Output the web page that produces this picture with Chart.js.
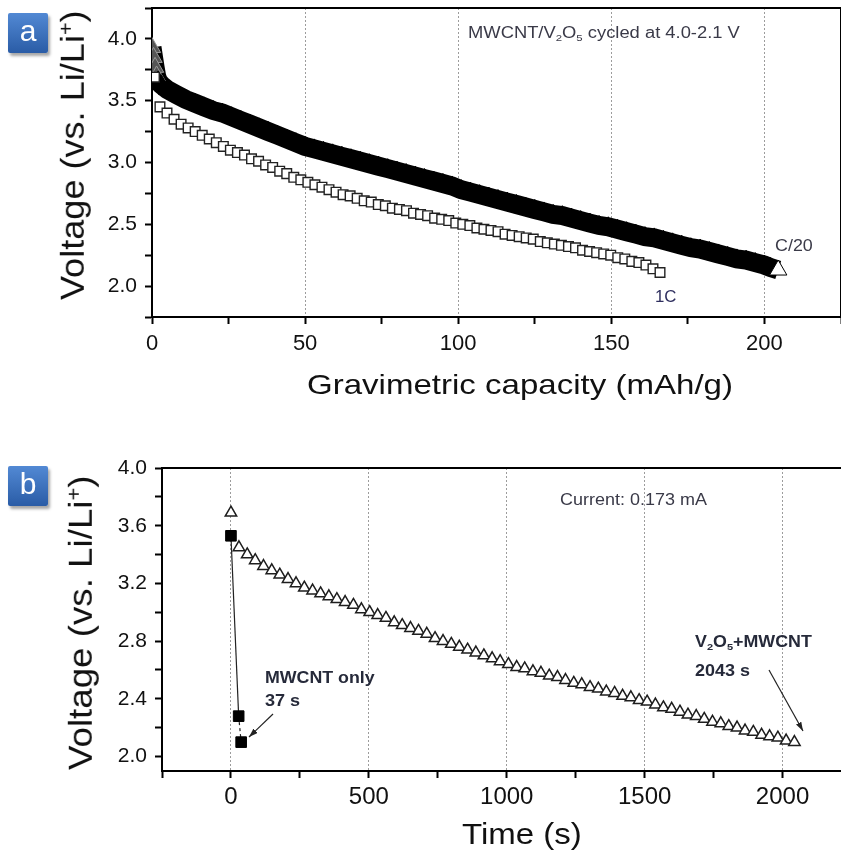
<!DOCTYPE html>
<html>
<head>
<meta charset="utf-8">
<script src="https://cdn.jsdelivr.net/npm/chart.js@4.4.1/dist/chart.umd.min.js"></script>
<style>
  html, body { margin: 0; padding: 0; background: #fff; overflow: hidden; }
  body { width: 841px; height: 854px; position: relative; font-family: "Liberation Sans", Arial, sans-serif; }
  canvas { position: absolute; left: 0; }
  #chartA { top: -20px; }
  #chartB { top: 440px; }
  .tag { position: absolute; left: 8px; width: 40px; height: 40px; border-radius: 2px;
         background: linear-gradient(#5289d4, #2a5ca6); color: #fff; font-size: 30px; line-height: 36px;
         text-align: center; box-shadow: 2px 3px 3px rgba(0,0,0,.35); }
  .txt { position: absolute; white-space: nowrap; line-height: 1; transform-origin: 0 0; color: #111; }
  .note { color: #3a3a48; }
  .bold { font-weight: bold; color: #262a3a; }
  .sb { font-size: .62em; vertical-align: -.3em; }
  .sp { font-size: .6em; vertical-align: .55em; }
</style>
</head>
<body>
<canvas id="chartA" width="852" height="430"></canvas>
<canvas id="chartB" width="860" height="414"></canvas>

<div class="tag" style="top:13px">a</div>
<div class="tag" style="top:466px">b</div>

<!-- axis titles -->
<div class="txt" style="left:55px;top:300px;font-size:31px" data-w="290" data-rot="1" data-sy="1.1">Voltage (vs. Li/Li<span class="sp">+</span>)</div>
<div class="txt" style="left:307px;top:371px;font-size:28px" data-w="426">Gravimetric capacity (mAh/g)</div>
<div class="txt" style="left:63px;top:770px;font-size:31px" data-w="295" data-rot="1" data-sy="1.1">Voltage (vs. Li/Li<span class="sp">+</span>)</div>
<div class="txt" style="left:462px;top:819px;font-size:30px" data-w="120">Time (s)</div>

<!-- annotations -->
<div class="txt note" style="left:468px;top:25px;font-size:16px" data-w="272">MWCNT/V<span class="sb">2</span>O<span class="sb">5</span> cycled at 4.0-2.1 V</div>
<div class="txt note" style="left:775px;top:238px;font-size:16px" data-w="38">C/20</div>
<div class="txt note" style="left:655px;top:289px;font-size:16px;color:#2e2e5e" data-w="21">1C</div>
<div class="txt note" style="left:560px;top:491px;font-size:17px" data-w="147">Current: 0.173 mA</div>
<div class="txt bold" style="left:695px;top:634px;font-size:16px" data-w="117">V<span class="sb">2</span>O<span class="sb">5</span>+MWCNT</div>
<div class="txt bold" style="left:695px;top:663px;font-size:16px" data-w="55">2043 s</div>
<div class="txt bold" style="left:265px;top:670px;font-size:16px" data-w="110">MWCNT only</div>
<div class="txt bold" style="left:265px;top:693px;font-size:16px" data-w="35">37 s</div>

<svg width="841" height="854" style="position:absolute;left:0;top:0;pointer-events:none">
  <defs>
    <marker id="ah" markerUnits="userSpaceOnUse" markerWidth="9" markerHeight="6" refX="9" refY="3" orient="auto">
      <path d="M0,0 L9,3 L0,6 z" fill="#222"/>
    </marker>
  </defs>
  <line x1="273" y1="714" x2="249" y2="737" stroke="#222" stroke-width="1.2" marker-end="url(#ah)"/>
  <line x1="769" y1="670" x2="803" y2="731" stroke="#222" stroke-width="1.2" marker-end="url(#ah)"/>
</svg>

<script>
const FONT = '"Liberation Sans", Arial, sans-serif';

// --- panel a: voltage vs gravimetric capacity ---
const capC20 = [0, 0.5, 1, 1.5, 2, 3, 5, 8, 11, 14, 17, 20, 23, 26, 29, 32, 35, 38, 41, 44, 47, 50,
  53, 56, 59, 62, 65, 68, 71, 74, 77, 80, 83, 86, 89, 92, 95, 98, 101, 104, 107, 110, 113, 116, 119,
  122, 125, 128, 131, 134, 137, 140, 143, 146, 149, 152, 155, 158, 161, 164, 167, 170, 173, 176, 179,
  182, 185, 188, 191, 194, 197, 200, 202, 204.5];
const voltC20 = [3.93, 3.85, 3.77, 3.70, 3.66, 3.63, 3.59, 3.55, 3.51, 3.48, 3.45, 3.42, 3.40, 3.37,
  3.34, 3.31, 3.28, 3.25, 3.22, 3.19, 3.16, 3.13, 3.11, 3.09, 3.07, 3.05, 3.03, 3.01, 2.99, 2.97, 2.95,
  2.93, 2.91, 2.89, 2.87, 2.85, 2.83, 2.81, 2.78, 2.76, 2.74, 2.72, 2.70, 2.68, 2.66, 2.64, 2.62, 2.60,
  2.58, 2.57, 2.55, 2.53, 2.51, 2.49, 2.48, 2.46, 2.44, 2.42, 2.40, 2.39, 2.37, 2.35, 2.33, 2.31, 2.30,
  2.28, 2.26, 2.24, 2.22, 2.21, 2.19, 2.17, 2.15, 2.13];

const cap1C = [0.8, 2.6, 4.9, 7.2, 9.5, 11.8, 14.1, 16.4, 18.7, 21.0, 23.3, 25.6, 27.9, 30.2, 32.5,
  34.8, 37.1, 39.4, 41.7, 44.0, 46.3, 48.6, 50.9, 53.2, 55.5, 57.8, 60.1, 62.4, 64.7, 67.0, 69.3, 71.6,
  73.9, 76.2, 78.5, 80.8, 83.1, 85.4, 87.7, 90.0, 92.3, 94.6, 96.9, 99.2, 101.5, 103.8, 106.1, 108.4,
  110.7, 113.0, 115.3, 117.6, 119.9, 122.2, 124.5, 126.8, 129.1, 131.4, 133.7, 136.0, 138.3, 140.6,
  142.9, 145.2, 147.5, 149.8, 152.1, 154.4, 156.7, 159.0, 161.3, 163.6, 165.9];
const volt1C = [3.69, 3.45, 3.40, 3.35, 3.31, 3.28, 3.25, 3.22, 3.19, 3.16,
  3.13, 3.10, 3.08, 3.06, 3.03, 3.01, 2.98, 2.96, 2.93, 2.91,
  2.88, 2.86, 2.84, 2.82, 2.80, 2.78, 2.76, 2.74, 2.73, 2.71,
  2.69, 2.68, 2.66, 2.65, 2.63, 2.62, 2.61, 2.59, 2.58, 2.57,
  2.55, 2.54, 2.53, 2.51, 2.50, 2.49, 2.47, 2.46, 2.45, 2.44,
  2.42, 2.41, 2.40, 2.39, 2.38, 2.36, 2.35, 2.34, 2.33, 2.32,
  2.31, 2.29, 2.28, 2.27, 2.26, 2.25, 2.23, 2.22, 2.20, 2.19,
  2.17, 2.14, 2.11];

const xTicksA = [0, 25, 50, 75, 100, 125, 150, 175, 200, 225];
const xLabelsA = [0, 50, 100, 150, 200];
const xGridA = [50, 100, 150, 200];
const yTicksA = [1.75, 2.0, 2.25, 2.5, 2.75, 3.0, 3.25, 3.5, 3.75, 4.0, 4.25];
const yLabelsA = [2.0, 2.5, 3.0, 3.5, 4.0];

// --- panel b: voltage vs time ---
const timeV2O5 = [0, 29, 59, 88, 118, 148, 177, 207, 236, 266, 296, 325, 355, 384, 414, 444, 473, 503,
  532, 562, 592, 621, 651, 680, 710, 740, 769, 799, 828, 858, 888, 917, 947, 976, 1006, 1036, 1065,
  1095, 1124, 1154, 1184, 1213, 1243, 1272, 1302, 1332, 1361, 1391, 1420, 1450, 1480, 1509, 1539, 1568,
  1598, 1628, 1657, 1687, 1716, 1746, 1776, 1805, 1835, 1864, 1894, 1924, 1953, 1983, 2013, 2043];
const voltV2O5 = [3.69, 3.45, 3.40, 3.36, 3.32, 3.29, 3.26, 3.23, 3.20, 3.17,
  3.15, 3.13, 3.11, 3.09, 3.07, 3.05, 3.02, 3.00, 2.98, 2.96,
  2.93, 2.91, 2.89, 2.87, 2.85, 2.82, 2.80, 2.78, 2.76, 2.74,
  2.72, 2.70, 2.68, 2.66, 2.64, 2.62, 2.61, 2.59, 2.58, 2.56,
  2.55, 2.53, 2.51, 2.50, 2.48, 2.47, 2.45, 2.44, 2.42, 2.41,
  2.39, 2.38, 2.36, 2.34, 2.33, 2.31, 2.29, 2.28, 2.26, 2.24,
  2.23, 2.21, 2.20, 2.18, 2.17, 2.15, 2.14, 2.13, 2.11, 2.10];
const timeCNT = [0, 28, 37];
const voltCNT = [3.53, 2.28, 2.10];

const xTicksB = [-250, 0, 250, 500, 750, 1000, 1250, 1500, 1750, 2000, 2250];
const xLabelsB = [0, 500, 1000, 1500, 2000];
const xGridB = [0, 500, 1000, 1500, 2000];
const yTicksB = [2.0, 2.2, 2.4, 2.6, 2.8, 3.0, 3.2, 3.4, 3.6, 3.8, 4.0];
const yLabelsB = [2.0, 2.4, 2.8, 3.2, 3.6, 4.0];

// top / right frame line
const frame = {
  id: 'frame',
  afterDraw(chart) {
    const { ctx, chartArea: a } = chart;
    ctx.save();
    ctx.strokeStyle = '#000';
    ctx.lineWidth = 2;
    ctx.beginPath();
    ctx.moveTo(a.left - 1, a.top);
    ctx.lineTo(a.right, a.top);
    ctx.lineTo(a.right, a.bottom);
    ctx.stroke();
    ctx.restore();
  }
};

function xAxis(min, max, ticks, labels, gridVals, size, fontSize, pad) {
  return {
    type: 'linear', min, max,
    afterBuildTicks: s => { s.ticks = ticks.map(v => ({ value: v })); },
    afterFit: s => { s.height = size; },
    ticks: { callback: v => labels.includes(v) ? String(v) : '', font: { family: FONT, size: fontSize },
             color: '#111', padding: pad, maxRotation: 0, autoSkip: false },
    grid: { color: c => (c.tick && gridVals.includes(c.tick.value)) ? '#9c9c9c' : 'rgba(0,0,0,0)',
            lineWidth: 1, tickColor: '#000', tickWidth: 2, tickLength: 7 },
    border: { color: '#000', width: 2, dash: [2, 2] }
  };
}

function yAxis(min, max, ticks, labels, size, fontSize, pad) {
  return {
    type: 'linear', min, max,
    afterBuildTicks: s => { s.ticks = ticks.map(v => ({ value: v })); },
    afterFit: s => { s.width = size; },
    ticks: { callback: v => labels.includes(v) ? v.toFixed(1) : '', font: { family: FONT, size: fontSize },
             color: '#111', padding: pad, autoSkip: false },
    grid: { color: 'rgba(0,0,0,0)', tickColor: '#000', tickWidth: 2, tickLength: 7 },
    border: { color: '#000', width: 2 }
  };
}

const common = {
  responsive: false,
  animation: false,
  devicePixelRatio: 1,
  plugins: { legend: { display: false }, tooltip: { enabled: false } }
};

new Chart(document.getElementById('chartA'), {
  type: 'scatter',
  data: {
    datasets: [
      {
        data: cap1C.map((c, i) => ({ x: c, y: volt1C[i] })),
        pointStyle: 'rect', pointRadius: 6.8,
        pointBackgroundColor: '#fff', pointBorderColor: '#222', pointBorderWidth: 1.4
      },
      {
        data: capC20.map((c, i) => ({ x: c, y: voltC20[i] })),
        showLine: true, borderColor: '#000', borderWidth: 19,
        pointStyle: 'triangle', pointRadius: 10,
        pointBackgroundColor: capC20.map((c, i) => i === capC20.length - 1 ? '#fff' : (c < 2 ? '#555' : '#000')),
        pointBorderColor: capC20.map(c => c < 2 ? '#999' : '#000'), pointBorderWidth: 1
      }
    ]
  },
  options: {
    ...common,
    layout: { padding: { left: 0, top: 28, right: 7, bottom: 0 } },
    scales: {
      x: xAxis(0, 225, xTicksA, xLabelsA, xGridA, 93, 22, 7),
      y: yAxis(1.75, 4.25, yTicksA, yLabelsA, 152, 21, 8)
    }
  },
  plugins: [frame]
});

new Chart(document.getElementById('chartB'), {
  type: 'scatter',
  data: {
    datasets: [
      {
        data: timeCNT.map((t, i) => ({ x: t, y: voltCNT[i] })),
        showLine: true, borderColor: '#222', borderWidth: 1.2,
        segment: { borderDash: c => c.p1DataIndex === 2 ? [3, 3] : undefined },
        pointStyle: 'rect', pointRadius: 7.5,
        pointBackgroundColor: '#000', pointBorderColor: '#000', pointBorderWidth: 1
      },
      {
        data: timeV2O5.map((t, i) => ({ x: t, y: voltV2O5[i] })),
        pointStyle: 'triangle', pointRadius: 6.6,
        pointBackgroundColor: '#fff', pointBorderColor: '#1e1e1e', pointBorderWidth: 1.5
      }
    ]
  },
  options: {
    ...common,
    layout: { padding: { left: 0, top: 28, right: 7, bottom: 0 } },
    scales: {
      x: xAxis(-250, 2250, xTicksB, xLabelsB, xGridB, 83, 24, 5),
      y: yAxis(1.9, 4.0, yTicksB, yLabelsB, 162, 21, 8)
    }
  },
  plugins: [frame]
});

// stretch the html texts to the widths they have in the figure
document.querySelectorAll('[data-w]').forEach(el => {
  const s = +el.dataset.w / el.offsetWidth;
  const sy = +(el.dataset.sy || 1);
  el.style.transform = (el.dataset.rot === '1' ? 'rotate(-90deg) ' : '') + `scale(${s}, ${sy})`;
});
</script>
</body>
</html>
